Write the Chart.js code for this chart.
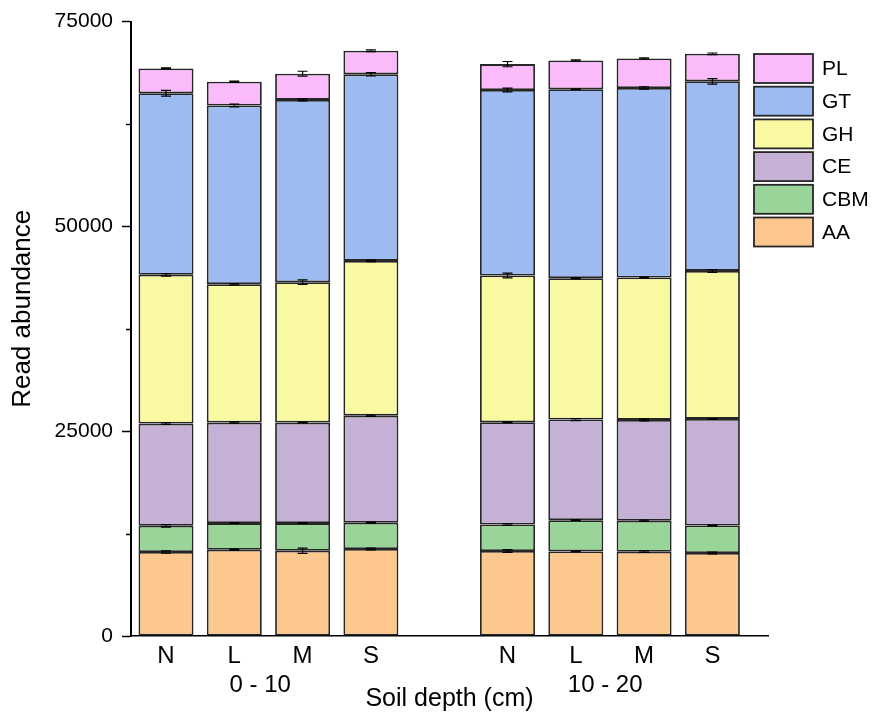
<!DOCTYPE html>
<html>
<head>
<meta charset="utf-8">
<script src="https://cdn.jsdelivr.net/npm/chart.js@4/dist/chart.umd.min.js"></script>
<style>
  html, body { margin: 0; padding: 0; background: #ffffff; }
  #wrap { width: 878px; height: 717px; }
</style>
</head>
<body>
<div id="wrap"><canvas id="c" width="878" height="717"></canvas></div>
<script>
// ---- data ----
const categories = ['N', 'L', 'M', 'S', 'N', 'L', 'M', 'S'];
const groupLabels = ['0 - 10', '10 - 20'];
const barPositions = [1, 2, 3, 4, 6, 7, 8, 9];
const seriesNames = ['AA', 'CBM', 'CE', 'GH', 'GT', 'PL'];

const AA  = [10250, 10535, 10415, 10615, 10370, 10330, 10290, 10130];
const CBM = [3200, 3245, 3365, 3205, 3245, 3810, 3770, 3360];
const CE  = [12480, 12270, 12270, 13080, 12480, 12280, 12320, 13010];
const GH  = [18160, 16900, 17140, 18890, 17910, 17260, 17380, 18070];
const GT  = [22160, 21805, 22250, 22770, 22645, 23060, 23140, 23140];
const PL  = [3037, 2915, 3200, 2880, 3160, 3520, 3605, 3360];

const AA_err  = [150, 80, 320, 100, 170, 30, 100, 100];
const CBM_err = [150, 50, 50, 80, 100, 30, 80, 80];
const CE_err  = [100, 80, 50, 80, 50, 120, 120, 40];
const GH_err  = [150, 80, 280, 100, 300, 50, 40, 170];
const GT_err  = [350, 170, 120, 200, 220, 30, 150, 340];
const PL_err  = [60, 60, 300, 100, 320, 80, 80, 100];

const yTicks = [0, 25000, 50000, 75000];
const yMinorTicks = [12500, 37500, 62500];
const yTitle = 'Read abundance';

// ---- styling ----
const colors = {
  AA: '#FCC88E', CBM: '#99D498', CE: '#C5B1D5',
  GH: '#F9F9A2', GT: '#9EBBF1', PL: '#FBBAFA'
};
const FONT = "'Liberation Sans', Arial, sans-serif";
const seriesValues = [AA, CBM, CE, GH, GT, PL];
const seriesErrors = [AA_err, CBM_err, CE_err, GH_err, GT_err, PL_err];
const groupTickPos = [2.38, 7.43];

const datasets = seriesNames.map((name, i) => ({
  label: name,
  data: seriesValues[i].map((v, j) => ({ x: barPositions[j], y: v })),
  errors: seriesErrors[i],
  backgroundColor: colors[name],
  borderColor: '#262626',
  borderWidth: 1.8,
  borderSkipped: false,
  categoryPercentage: 1.0,
  barPercentage: 0.805
}));

// error bars
const errorBarPlugin = {
  id: 'errorBars',
  afterDatasetsDraw(chart) {
    const ctx = chart.ctx;
    const yScale = chart.scales.y;
    ctx.save();
    ctx.strokeStyle = '#000';
    ctx.lineWidth = 1.2;
    chart.data.datasets.forEach((ds, i) => {
      const meta = chart.getDatasetMeta(i);
      meta.data.forEach((bar, j) => {
        const topVal = yScale.getValueForPixel(bar.y);
        const e = ds.errors[j];
        const yHi = yScale.getPixelForValue(topVal + e);
        const yLo = yScale.getPixelForValue(topVal - e);
        const x = bar.x, hw = 5;
        ctx.beginPath();
        ctx.moveTo(x, yHi); ctx.lineTo(x, yLo);
        ctx.moveTo(x - hw, yHi); ctx.lineTo(x + hw, yHi);
        ctx.moveTo(x - hw, yLo); ctx.lineTo(x + hw, yLo);
        ctx.stroke();
      });
    });
    ctx.restore();
  }
};

// minor y ticks + y-axis title
const axisExtrasPlugin = {
  id: 'axisExtras',
  afterDraw(chart) {
    const ctx = chart.ctx;
    const y = chart.scales.y;
    const area = chart.chartArea;
    const x0 = area.left;
    ctx.save();
    ctx.strokeStyle = '#000';
    ctx.lineWidth = 1.5;
    yMinorTicks.forEach(v => {
      const py = Math.round(y.getPixelForValue(v)) + 0.5;
      ctx.beginPath();
      ctx.moveTo(x0 - 5, py); ctx.lineTo(x0, py);
      ctx.stroke();
    });
    // y title
    ctx.translate(23, (area.top + area.bottom) / 2 - 20);
    ctx.rotate(-Math.PI / 2);
    ctx.font = '26px ' + FONT;
    ctx.fillStyle = '#000';
    ctx.textAlign = 'center';
    ctx.textBaseline = 'middle';
    ctx.fillText(yTitle, 0, 0);
    ctx.restore();
  }
};

// legend (reversed order, inside plot on the right)
const legendPlugin = {
  id: 'customLegend',
  afterDraw(chart) {
    const ctx = chart.ctx;
    const items = chart.data.datasets.slice().reverse();
    const bx = 754, by = 54, bw = 59, bh = 29, step = 32.7;
    ctx.save();
    ctx.font = '21px ' + FONT;
    ctx.textBaseline = 'middle';
    ctx.textAlign = 'left';
    items.forEach((ds, k) => {
      const y = by + k * step;
      ctx.fillStyle = ds.backgroundColor;
      ctx.fillRect(bx, y, bw, bh);
      ctx.strokeStyle = '#262626';
      ctx.lineWidth = 1.8;
      ctx.strokeRect(bx, y, bw, bh);
      ctx.fillStyle = '#000';
      ctx.fillText(ds.label, bx + bw + 9, y + bh / 2 + 1);
    });
    ctx.restore();
  }
};

new Chart(document.getElementById('c'), {
  type: 'bar',
  data: { datasets },
  options: {
    responsive: false,
    animation: false,
    layout: { padding: { top: 19, right: 110, bottom: 0, left: 0 } },
    plugins: { legend: { display: false }, tooltip: { enabled: false } },
    scales: {
      x: {
        type: 'linear',
        stacked: true,
        min: 0.4876,
        max: 9.814,
        offset: false,
        afterBuildTicks(scale) {
          const t = barPositions.map(v => ({ value: v }));
          groupTickPos.forEach(v => t.push({ value: v }));
          scale.ticks = t;
        },
        afterFit(scale) { scale.height = 81; },
        grid: { display: false, drawTicks: false },
        border: { display: true, color: '#000', width: 1.5 },
        ticks: {
          autoSkip: false,
          maxRotation: 0,
          minRotation: 0,
          padding: 6,
          color: '#000',
          font: { family: FONT, size: 24 },
          callback(value) {
            const bi = barPositions.indexOf(value);
            if (bi >= 0) return categories[bi];
            const gi = groupTickPos.indexOf(value);
            if (gi >= 0) return ['', groupLabels[gi]];
            return '';
          }
        },
        title: {
          display: true,
          text: 'Soil depth (cm)',
          color: '#000',
          font: { family: FONT, size: 25 },
          padding: { top: 0, bottom: 3 }
        }
      },
      y: {
        stacked: true,
        min: 0,
        max: 75000,
        afterBuildTicks(scale) { scale.ticks = yTicks.map(v => ({ value: v })); },
        afterFit(scale) { scale.width = 131; },
        grid: {
          display: true,
          drawOnChartArea: false,
          drawTicks: true,
          tickLength: 9,
          tickColor: '#000',
          tickWidth: 1.5
        },
        border: { display: true, color: '#000', width: 2 },
        ticks: {
          padding: 9,
          color: '#000',
          font: { family: FONT, size: 21 },
          callback: v => String(v)
        },
        title: { display: false }
      }
    }
  },
  plugins: [errorBarPlugin, axisExtrasPlugin, legendPlugin]
});
</script>
</body>
</html>
